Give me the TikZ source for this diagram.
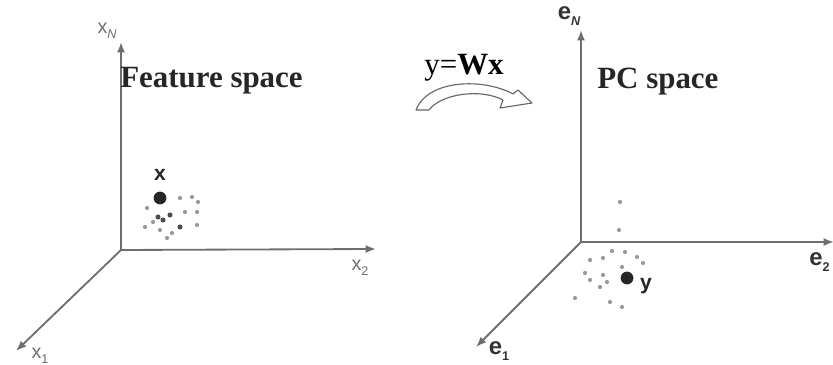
\documentclass[tikz,border=0pt]{standalone}
\usepackage{fontspec}
\setmainfont{Liberation Serif}
\newfontfamily\labelfont{Liberation Sans}
\usepackage{tikz}
\usetikzlibrary{arrows.meta,positioning}
\definecolor{axisgray}{HTML}{6E6E6E}
\definecolor{dotgray}{HTML}{9A9A9A}
\newcommand{\axsub}[1]{\raisebox{-0.45ex}{\fontsize{9}{10}\selectfont #1}}
\tikzset{
  axis/.style={
    -{Latex[length=2.6mm,width=2mm]},
    line width=1.3pt,
    draw=axisgray
  },
  axislabel/.style={
    text=axisgray,
    inner sep=0pt,
    font=\labelfont\fontsize{14}{16}\selectfont
  },
  basislabel/.style={
    text=black!80,
    inner sep=0pt,
    font=\labelfont\bfseries\fontsize{17}{20}\selectfont
  },
  spacetitle/.style={
    inner sep=0pt,
    anchor=west,
    text=black!85,
    font=\bfseries\fontsize{22}{26}\selectfont
  },
  pointlabel/.style={
    inner sep=0pt,
    text=black!85,
    font=\labelfont\bfseries\fontsize{15}{18}\selectfont
  },
  datapoint/.style={circle, fill=black!85, inner sep=0pt, minimum size=3.2mm}
}

\begin{document}
\begin{tikzpicture}[x=0.025cm,y=-0.025cm]
\useasboundingbox (0,0) rectangle (833,365);

% feature space axes
\coordinate (fo) at (121,250);
\coordinate (fxN) at (121,42);
\coordinate (fx2) at (376,249);
\coordinate (fx1) at (16,351);
\draw[axis] (fo) -- (fxN);
\draw[axis] (fo) -- (fx2);
\draw[axis] (fo) -- (fx1);
\node[axislabel] (lxN) at (107,31) {x\axsub{\itshape N}};
\node[axislabel] (lx2) at (360,268) {x\axsub{2}};
\node[axislabel] (lx1) at (40,356) {x\axsub{1}};
\node[spacetitle] (ftitle) at (120,81) {Feature space};

% data cloud around x
\foreach \px/\py in {180/198,192/197,198/202,185/212,197/212,158/217,
  163/220,170/215,180/227,153/222,145/227,160/230,167/238,172/233,
  197/225,147/208}
  \fill[dotgray] (\px,\py) circle[radius=1.5pt];
\foreach \px/\py in {158/217,163/220,170/215,180/227}
  \fill[black!70] (\px,\py) circle[radius=1.8pt];
\node[datapoint] (xpt) at (160,198) {};
\node[pointlabel] (xlab) at (160,175) {x};

% transform
\node[inner sep=0pt, font=\fontsize{22}{26}\selectfont] (map) at (464,68)
  {y=\textbf{Wx}};
\draw[draw=black!60, line width=0.8pt, fill=white, line join=round]
  (416,110) -- (429,110) .. controls (441,94) and (480,88) .. (503,100)
  -- (500,108) -- (532,103) -- (518,90) -- (513,94)
  .. controls (484,78) and (428,79) .. cycle;

% pc space axes
\coordinate (po) at (581,242);
\coordinate (peN) at (581,30);
\coordinate (pe2) at (834,242);
\coordinate (pe1) at (476,347);
\draw[axis] (po) -- (peN);
\draw[axis] (po) -- (pe2);
\draw[axis] (po) -- (pe1);
\node[basislabel] (leN) at (569,16) {e\axsub{\itshape N}};
\node[basislabel, anchor=west] (le2) at (809,262) {e\axsub{2}};
\node[basislabel] (le1) at (499,351) {e\axsub{1}};
\node[spacetitle] (ptitle) at (597,82) {PC space};

% data cloud around y
\foreach \px/\py in {620/202,619/230,612/251,625/252,637/257,643/263,
  590/260,603/258,622/267,585/273,590/280,603/275,607/282,600/287,
  575/298,610/302,622/307}
  \fill[dotgray] (\px,\py) circle[radius=1.5pt];
\node[datapoint] (ypt) at (627,278) {};
\node[pointlabel] (ylab) at (646,286) {y};
\end{tikzpicture}
\end{document}
